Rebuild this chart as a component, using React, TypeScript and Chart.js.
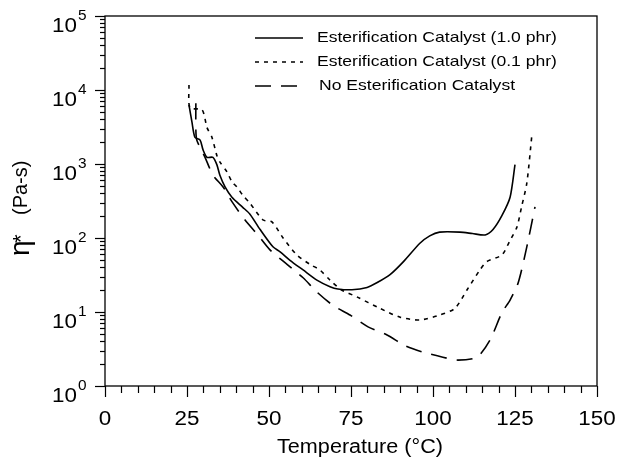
import React, { useEffect, useRef } from "react";
import { Chart, registerables } from "chart.js";

Chart.register(...registerables);

// Esterification Catalyst (1.0 phr) — solid
const tempSolid = [25.6, 26.5, 27.4, 29.0, 29.9, 31.1, 32.9, 34.1, 35.0, 36.6, 38.7, 42.0, 44.2, 47.3, 51.2, 53.4, 56.4, 60.4, 64.6, 68.6, 71.0, 75.3, 79.9, 83.0, 86.9, 91.0, 96.0, 99.0, 102.0, 108.2, 112.0, 115.9, 118.3, 121.0, 123.5, 125.0];
const etaSolid = [6300, 3700, 2300, 2100, 1550, 1230, 1230, 980, 710, 490, 355, 260, 210, 130, 76, 65, 50, 37, 27, 22, 20.5, 20, 21.5, 25, 32, 48, 85, 107, 120, 120, 115, 110, 130, 200, 355, 980];

// Esterification Catalyst (0.1 phr) — short dashes
const tempDotted = [25.6, 25.9, 29.6, 31.1, 32.6, 34.1, 35.0, 37.2, 38.7, 40.2, 42.0, 44.2, 48.2, 50.9, 54.3, 58.5, 62.5, 65.5, 68.6, 72.0, 76.8, 83.8, 90.0, 96.0, 102.0, 106.7, 110.4, 114.3, 116.4, 121.0, 123.5, 125.6, 127.0, 128.6, 130.2];
const etaDotted = [11700, 5750, 5400, 3100, 2300, 1300, 1070, 780, 575, 490, 380, 295, 175, 165, 100, 59, 44, 37, 27, 20, 16, 11.2, 8.5, 7.8, 9.1, 11.2, 20, 37, 48, 59, 93, 141, 263, 550, 2600];

// No Esterification Catalyst — long dashes
const tempDashed = [27.7, 27.7, 28.0, 30.5, 32.9, 36.0, 38.7, 42.7, 46.6, 50.3, 55.5, 60.4, 64.6, 69.5, 74.7, 80.2, 86.0, 91.5, 96.6, 103.0, 107.6, 113.4, 117.4, 121.0, 123.5, 126.0, 128.6, 131.1];
const etaDashed = [6600, 2900, 2100, 1230, 710, 490, 310, 175, 110, 69, 44, 29, 18.6, 12.3, 9.1, 6.3, 4.9, 3.5, 2.9, 2.45, 2.24, 2.45, 4.2, 9.8, 14.5, 25, 76, 263];

const seriesLabels = [
  "Esterification Catalyst (1.0 phr)",
  "Esterification Catalyst (0.1 phr)",
  "No Esterification Catalyst",
];

const xTickValues = [0, 25, 50, 75, 100, 125, 150];
const yDecadeExponents = [0, 1, 2, 3, 4, 5];

const xTitle = "Temperature (°C)";
const yTitleSymbol = "η";
const yTitleStar = "*";
const yTitleUnit = "(Pa-s)";

const FONT = "'Liberation Sans', Arial, Helvetica, sans-serif";

const toPoints = (xs: number[], ys: number[]) => xs.map((x, i) => ({ x, y: ys[i] }));

function stretchedText(ctx: any, text: string, x: number, y: number, sx: number) {
  ctx.save();
  ctx.translate(x, y);
  ctx.scale(sx, 1);
  ctx.fillText(text, 0, 0);
  ctx.restore();
}

const decorPlugin = {
  id: "decor",
  afterDraw(chart: any) {
    const { ctx, chartArea, scales } = chart;
    const xs = scales.x;
    const ys = scales.y;
    const { left, right, top, bottom } = chartArea;
    ctx.save();
    ctx.strokeStyle = "#000";
    ctx.fillStyle = "#000";
    ctx.lineWidth = 1.3;
    ctx.setLineDash([]);
    // frame
    ctx.strokeRect(left, top, right - left, bottom - top);

    // x ticks
    ctx.lineWidth = 1.2;
    for (let v = 0; v <= 150; v += 5) {
      const px = Math.round(xs.getPixelForValue(v)) + 0.5;
      const len = v % 25 === 0 ? 11 : 7;
      ctx.beginPath();
      ctx.moveTo(px, bottom);
      ctx.lineTo(px, bottom + len);
      ctx.stroke();
    }
    // x labels
    ctx.font = `20px ${FONT}`;
    ctx.textAlign = "center";
    ctx.textBaseline = "middle";
    for (const v of xTickValues) {
      stretchedText(ctx, String(v), xs.getPixelForValue(v), bottom + 33, 1.12);
    }
    // y ticks
    for (const e of yDecadeExponents) {
      for (let m = 1; m <= 9; m++) {
        if (e === 5 && m > 1) break;
        const val = m * Math.pow(10, e);
        const py = Math.round(ys.getPixelForValue(val)) + 0.5;
        const len = m === 1 ? 10 : 5;
        ctx.beginPath();
        ctx.moveTo(left - len, py);
        ctx.lineTo(left, py);
        ctx.stroke();
      }
    }
    // y labels
    for (const e of yDecadeExponents) {
      const py = ys.getPixelForValue(Math.pow(10, e));
      ctx.font = `20px ${FONT}`;
      ctx.textAlign = "right";
      ctx.textBaseline = "middle";
      stretchedText(ctx, "10", 77, py + 10, 1.12);
      ctx.font = `14px ${FONT}`;
      ctx.textAlign = "left";
      stretchedText(ctx, String(e), 78, py, 1.1);
    }

    // x title
    ctx.font = `20px ${FONT}`;
    ctx.textAlign = "center";
    ctx.textBaseline = "middle";
    stretchedText(ctx, xTitle, 360, 447, 1.08);

    // y title (rotated)
    ctx.save();
    ctx.translate(0, 206);
    ctx.rotate(-Math.PI / 2);
    ctx.textAlign = "left";
    ctx.textBaseline = "alphabetic";
    ctx.font = `28px ${FONT}`;
    ctx.fillText(yTitleSymbol, -50, 29);
    ctx.font = `22px ${FONT}`;
    ctx.fillText(yTitleStar, -37, 28);
    ctx.font = `20px ${FONT}`;
    ctx.fillText(yTitleUnit, -9, 27);
    ctx.restore();

    // legend
    const legendY = [38, 62, 86];
    chart.data.datasets.forEach((ds: any, i: number) => {
      const y = legendY[i];
      ctx.beginPath();
      ctx.lineWidth = ds.borderWidth;
      ctx.setLineDash(ds.borderDash || []);
      ctx.moveTo(255, y);
      ctx.lineTo(303, y);
      ctx.stroke();
      ctx.setLineDash([]);
      ctx.font = `15px ${FONT}`;
      ctx.textAlign = "left";
      ctx.textBaseline = "middle";
      stretchedText(ctx, ds.label, i === 2 ? 319 : 317, y, 1.17);
    });
    ctx.restore();
  },
};

export default function App() {
  const canvasRef = useRef<HTMLCanvasElement | null>(null);

  useEffect(() => {
    if (!canvasRef.current) return;
    const chart = new Chart(canvasRef.current, {
      type: "line",
      data: {
        datasets: [
          {
            label: seriesLabels[0],
            data: toPoints(tempSolid, etaSolid),
            borderColor: "#000",
            borderWidth: 1.6,
            borderDash: [],
            pointRadius: 0,
            tension: 0.25,
            fill: false,
          },
          {
            label: seriesLabels[1],
            data: toPoints(tempDotted, etaDotted),
            borderColor: "#000",
            borderWidth: 1.6,
            borderDash: [4, 5],
            pointRadius: 0,
            tension: 0.25,
            fill: false,
          },
          {
            label: seriesLabels[2],
            data: toPoints(tempDashed, etaDashed),
            borderColor: "#000",
            borderWidth: 1.6,
            borderDash: [16, 10],
            pointRadius: 0,
            tension: 0.25,
            fill: false,
          },
        ],
      },
      options: {
        responsive: false,
        animation: false,
        layout: { padding: { top: 16, right: 21, left: 0, bottom: 0 } },
        plugins: { legend: { display: false }, tooltip: { enabled: false } },
        scales: {
          x: {
            type: "linear",
            min: 0,
            max: 150,
            afterFit: (s: any) => {
              s.height = 75;
            },
            ticks: { display: false },
            grid: { display: false },
            border: { display: false },
          },
          y: {
            type: "logarithmic",
            min: 1,
            max: 100000,
            afterFit: (s: any) => {
              s.width = 105;
            },
            ticks: { display: false },
            grid: { display: false },
            border: { display: false },
          },
        },
      },
      plugins: [decorPlugin],
    });
    return () => chart.destroy();
  }, []);

  return (
    <div style={{ position: "fixed", left: 0, top: 0, width: 618, height: 461, background: "#fff" }}>
      <canvas ref={canvasRef} width={618} height={461} style={{ display: "block" }} />
    </div>
  );
}
